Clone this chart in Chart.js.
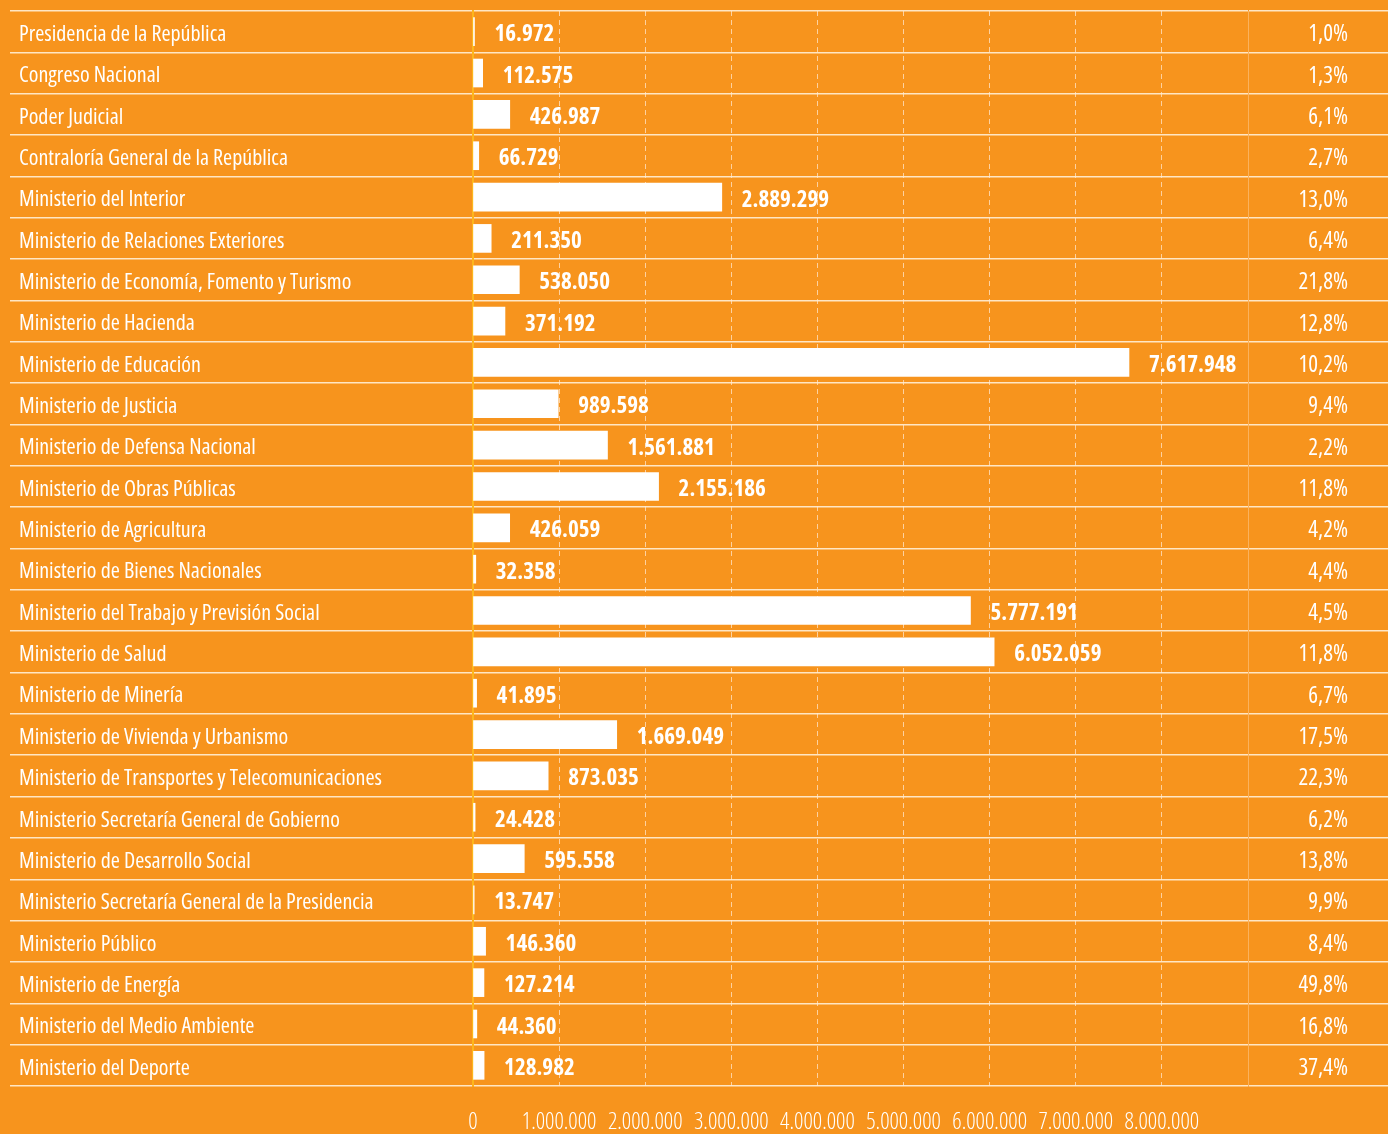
<!DOCTYPE html>
<html>
<head>
<meta charset="utf-8">
<script src="https://cdn.jsdelivr.net/npm/chart.js@4/dist/chart.umd.min.js"></script>
<style>
  html, body { margin: 0; padding: 0; background: #F7941D; }
  #wrap { width: 1388px; height: 1134px; position: relative; }
  canvas { display: block; }
</style>
</head>
<body>
<div id="wrap"><canvas id="c" width="1388" height="1134"></canvas></div>
<script>
const categories = [
  "Presidencia de la República",
  "Congreso Nacional",
  "Poder Judicial",
  "Contraloría General de la República",
  "Ministerio del Interior",
  "Ministerio de Relaciones Exteriores",
  "Ministerio de Economía, Fomento y Turismo",
  "Ministerio de Hacienda",
  "Ministerio de Educación",
  "Ministerio de Justicia",
  "Ministerio de Defensa Nacional",
  "Ministerio de Obras Públicas",
  "Ministerio de Agricultura",
  "Ministerio de Bienes Nacionales",
  "Ministerio del Trabajo y Previsión Social",
  "Ministerio de Salud",
  "Ministerio de Minería",
  "Ministerio de Vivienda y Urbanismo",
  "Ministerio de Transportes y Telecomunicaciones",
  "Ministerio Secretaría General de Gobierno",
  "Ministerio de Desarrollo Social",
  "Ministerio Secretaría General de la Presidencia",
  "Ministerio Público",
  "Ministerio de Energía",
  "Ministerio del Medio Ambiente",
  "Ministerio del Deporte"
];
const values = [
  16972, 112575, 426987, 66729, 2889299, 211350, 538050, 371192, 7617948,
  989598, 1561881, 2155186, 426059, 32358, 5777191, 6052059, 41895,
  1669049, 873035, 24428, 595558, 13747, 146360, 127214, 44360, 128982
];
const shares = [
  1.0, 1.3, 6.1, 2.7, 13.0, 6.4, 21.8, 12.8, 10.2, 9.4, 2.2, 11.8, 4.2,
  4.4, 4.5, 11.8, 6.7, 17.5, 22.3, 6.2, 13.8, 9.9, 8.4, 49.8, 16.8, 37.4
];
const xTickLabels = [
  "0", "1.000.000", "2.000.000", "3.000.000", "4.000.000",
  "5.000.000", "6.000.000", "7.000.000", "8.000.000"
];

const FAMILY = "'Open Sans', sans-serif";

function fmtThousands(n) {
  const s = String(Math.round(n));
  let out = "";
  for (let i = 0; i < s.length; i++) {
    if (i > 0 && (s.length - i) % 3 === 0) out += ".";
    out += s[i];
  }
  return out;
}
function fmtShare(p) {
  return p.toFixed(1).replace(".", ",") + "%";
}
const shareLabels = shares.map(fmtShare);

const SEP = "rgba(255,238,215,0.9)";

const valueLabels = {
  id: "valueLabels",
  afterDatasetsDraw(chart) {
    const ctx = chart.ctx;
    const meta = chart.getDatasetMeta(0);
    ctx.save();
    ctx.fillStyle = "#ffffff";
    ctx.font = "condensed 700 23px " + FAMILY;
    ctx.textAlign = "left";
    ctx.textBaseline = "middle";
    meta.data.forEach((bar, i) => {
      ctx.fillText(fmtThousands(values[i]), bar.x + 20, bar.y + 3);
    });
    ctx.restore();
  }
};

function noPad(s) {
  s.paddingTop = 0; s.paddingBottom = 0; s.paddingLeft = 0; s.paddingRight = 0;
}

new Chart(document.getElementById("c"), {
  type: "bar",
  data: {
    labels: categories,
    datasets: [{
      data: values,
      backgroundColor: "#ffffff",
      borderWidth: 0,
      barThickness: 28
    }]
  },
  options: {
    indexAxis: "y",
    responsive: false,
    animation: false,
    devicePixelRatio: 1,
    layout: { padding: { left: 19, right: 40, top: 11, bottom: 0 } },
    plugins: { legend: { display: false }, tooltip: { enabled: false } },
    scales: {
      x: {
        type: "linear",
        position: "bottom",
        min: 0,
        max: 9000000,
        ticks: {
          stepSize: 1000000,
          color: "#ffffff",
          font: { family: FAMILY, weight: "condensed 300", size: 23 },
          padding: 23,
          maxRotation: 0,
          autoSkip: false,
          callback: (v, i) => (i < xTickLabels.length ? xTickLabels[i] : "")
        },
        grid: {
          drawTicks: false,
          lineWidth: 1,
          color: ctx => {
            const v = ctx.tick ? ctx.tick.value : 0;
            return (v === 0 || v >= 9000000) ? "rgba(0,0,0,0)" : "rgba(255,235,215,0.7)";
          }
        },
        border: { display: false, dash: [5, 4] },
        afterFit: s => { s.height = 48; noPad(s); }
      },
      y: {
        type: "category",
        position: "left",
        offset: true,
        ticks: {
          crossAlign: "far",
          color: "#ffffff",
          autoSkip: false,
          labelOffset: 3,
          font: { family: FAMILY, weight: "condensed 400", size: 22 }
        },
        grid: {
          offset: true,
          color: SEP,
          lineWidth: 1.5,
          drawTicks: true,
          tickLength: 463
        },
        border: { display: true, color: "#FDB61C", width: 2 },
        afterFit: s => { s.width = 454; noPad(s); }
      },
      y2: {
        type: "category",
        position: "right",
        labels: shareLabels,
        offset: true,
        ticks: {
          crossAlign: "far",
          color: "#ffffff",
          autoSkip: false,
          labelOffset: 3,
          font: { family: FAMILY, weight: "condensed 400", size: 23 }
        },
        grid: {
          offset: true,
          color: SEP,
          lineWidth: 1.5,
          drawOnChartArea: false,
          drawTicks: true,
          tickLength: 140
        },
        border: { display: true, color: "rgba(255,235,215,0.35)", width: 1 },
        afterFit: s => { s.width = 100; noPad(s); }
      }
    }
  },
  plugins: [valueLabels]
});
</script>
</body>
</html>
